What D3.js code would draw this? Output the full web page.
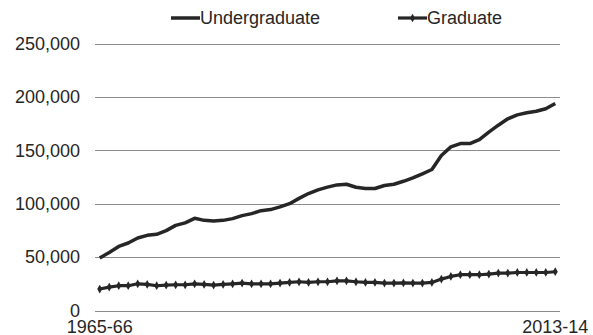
<!DOCTYPE html>
<html>
<head>
<meta charset="utf-8">
<script src="https://cdn.jsdelivr.net/npm/d3@7"></script>
<style>
  html, body { margin: 0; padding: 0; background: #fff; }
  svg text { font-family: "Liberation Sans", Arial, sans-serif; fill: #262626; }
</style>
</head>
<body>
<div id="chart"></div>
<script>
// --- Data ---
const years = ["1965-66","1966-67","1967-68","1968-69","1969-70","1970-71","1971-72","1972-73","1973-74","1974-75",
  "1975-76","1976-77","1977-78","1978-79","1979-80","1980-81","1981-82","1982-83","1983-84","1984-85",
  "1985-86","1986-87","1987-88","1988-89","1989-90","1990-91","1991-92","1992-93","1993-94","1994-95",
  "1995-96","1996-97","1997-98","1998-99","1999-00","2000-01","2001-02","2002-03","2003-04","2004-05",
  "2005-06","2006-07","2007-08","2008-09","2009-10","2010-11","2011-12","2012-13","2013-14"];

const undergraduate = [49100, 54400, 60000, 63200, 67900, 70400, 71300, 74800, 79700, 82000,
  86300, 84400, 83800, 84400, 86000, 88800, 90700, 93500, 94500, 97000,
  100000, 105000, 109500, 113000, 115500, 117600, 118200, 115400, 114200, 114200,
  117000, 118200, 121000, 124200, 128000, 132000, 145100, 153200, 156300, 156300,
  160000, 167000, 173500, 179500, 183200, 185100, 186600, 188900, 193800];

const graduate = [20100, 21900, 23200, 23200, 25000, 24400, 23200, 23800, 24100, 24100,
  25000, 24400, 23800, 24400, 25000, 25700, 25000, 25000, 25000, 25700,
  26300, 26900, 26300, 26900, 26900, 27800, 27800, 26900, 26300, 26300,
  25700, 25700, 25800, 25700, 25700, 26300, 29400, 31900, 33500, 33500,
  33500, 34100, 35000, 35000, 35600, 35600, 35600, 35600, 36300];

const yTicks = [0, 50000, 100000, 150000, 200000, 250000];
const xLabels = ["1965-66", "2013-14"];

// --- Size and scales ---
const width = 593, height = 335;
const plot = {left: 95, right: 560, top: 43.5, bottom: 310.5};

const svg = d3.select("#chart").append("svg")
    .attr("width", width)
    .attr("height", height);

const x = d3.scaleBand().domain(years).range([plot.left, plot.right]);
const xc = d => x(d) + x.bandwidth() / 2;
const y = d3.scaleLinear().domain([0, 250000]).range([plot.bottom, plot.top]);

// gridlines
svg.append("g").selectAll("line")
    .data(yTicks)
    .enter().append("line")
    .attr("x1", plot.left).attr("x2", plot.right)
    .attr("y1", d => Math.round(y(d)) + 0.5).attr("y2", d => Math.round(y(d)) + 0.5)
    .attr("stroke", "#8c8c8c").attr("stroke-width", 1);

// y axis labels
const fmt = d3.format(",");
svg.append("g").selectAll("text")
    .data(yTicks)
    .enter().append("text")
    .attr("x", 80)
    .attr("y", d => y(d))
    .attr("dy", "0.35em")
    .attr("text-anchor", "end")
    .attr("font-size", "18px")
    .text(d => fmt(d));

// x axis labels (only first and last)
svg.append("g").selectAll("text")
    .data(xLabels)
    .enter().append("text")
    .attr("x", d => xc(d))
    .attr("y", 332.5)
    .attr("text-anchor", "middle")
    .attr("font-size", "18px")
    .text(d => d);

// lines
const line = d3.line()
    .x((d, i) => xc(years[i]))
    .y(d => y(d));

svg.append("path")
    .datum(undergraduate)
    .attr("fill", "none")
    .attr("stroke", "#262626")
    .attr("stroke-width", 3.5)
    .attr("stroke-linejoin", "round")
    .attr("d", line);

svg.append("path")
    .datum(graduate)
    .attr("fill", "none")
    .attr("stroke", "#262626")
    .attr("stroke-width", 3.2)
    .attr("stroke-linejoin", "round")
    .attr("d", line);

const diamond = d3.symbol().type(d3.symbolDiamond).size(22);
svg.append("g").selectAll("path")
    .data(graduate)
    .enter().append("path")
    .attr("transform", (d, i) => `translate(${xc(years[i])},${y(d)})`)
    .attr("d", diamond)
    .attr("fill", "#262626");

// --- Legend ---
const legend = svg.append("g");
legend.append("line")
    .attr("x1", 171).attr("x2", 200).attr("y1", 18).attr("y2", 18)
    .attr("stroke", "#262626").attr("stroke-width", 3.5);
legend.append("text")
    .attr("x", 200).attr("y", 18).attr("dy", "0.35em")
    .attr("font-size", "18px")
    .text("Undergraduate");

legend.append("line")
    .attr("x1", 398).attr("x2", 427).attr("y1", 18).attr("y2", 18)
    .attr("stroke", "#262626").attr("stroke-width", 3.2);
legend.append("path")
    .attr("transform", "translate(412.5,18)")
    .attr("d", diamond)
    .attr("fill", "#262626");
legend.append("text")
    .attr("x", 427).attr("y", 18).attr("dy", "0.35em")
    .attr("font-size", "18px")
    .text("Graduate");
</script>
</body>
</html>
